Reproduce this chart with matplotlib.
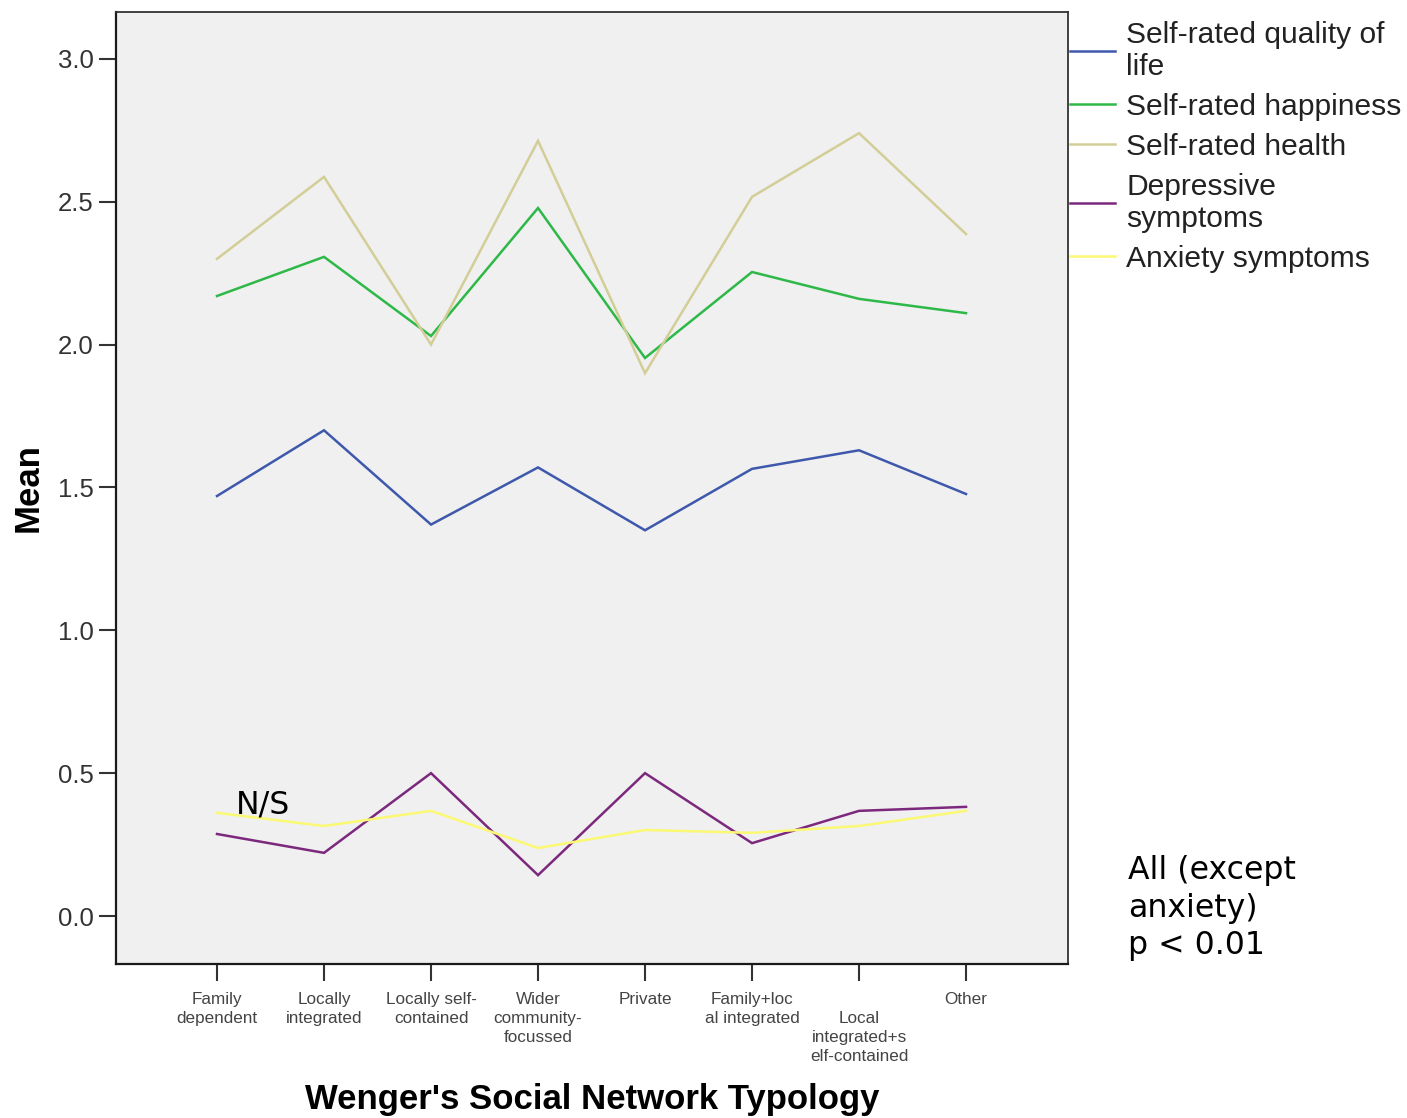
import matplotlib
matplotlib.use("Agg")
import matplotlib.pyplot as plt
import numpy as np

# Network types (x axis) and the mean of each outcome per type
categories = [
    "Family\ndependent",
    "Locally\nintegrated",
    "Locally self-\ncontained",
    "Wider\ncommunity-\nfocussed",
    "Private",
    "Family+loc\nal integrated",
    "\nLocal\nintegrated+s\nelf-contained",
    "Other",
]

quality_of_life = [1.47, 1.70, 1.37, 1.57, 1.35, 1.565, 1.63, 1.477]
happiness = [2.17, 2.307, 2.03, 2.478, 1.953, 2.254, 2.16, 2.11]
health = [2.30, 2.587, 2.00, 2.713, 1.90, 2.517, 2.74, 2.387]
depressive = [0.287, 0.221, 0.50, 0.143, 0.50, 0.255, 0.368, 0.382]
anxiety = [0.361, 0.315, 0.368, 0.238, 0.301, 0.291, 0.315, 0.368]

series_names = [
    "Self-rated quality of\nlife",
    "Self-rated happiness",
    "Self-rated health",
    "Depressive\nsymptoms",
    "Anxiety symptoms",
]
series_values = [quality_of_life, happiness, health, depressive, anxiety]
series_colors = ["#3E58AC", "#2EB848", "#D3CE97", "#7C287D", "#FBF873"]

y_ticks = [0.0, 0.5, 1.0, 1.5, 2.0, 2.5, 3.0]

W, H = 1407, 1118
fig = plt.figure(figsize=(W / 100, H / 100), dpi=100)
fig.patch.set_facecolor("white")

left, right, top, bottom = 116, 1068, 12, 964
ax = fig.add_axes([left / W, 1 - bottom / H, (right - left) / W, (bottom - top) / H])
ax.set_facecolor("#F0F0F0")

x = np.arange(len(categories))
for name, vals, col in zip(series_names, series_values, series_colors):
    ax.plot(x, vals, color=col, lw=1.8, label=name, solid_joinstyle="miter")

ax.set_xlim(-0.944, 7.953)
ax.set_ylim(-0.168, 3.164)

ax.set_yticks(y_ticks)
ax.set_yticklabels([f"{v:.1f}" for v in y_ticks],
                   fontfamily="Liberation Sans", fontsize=18.5, color="#333333")
ax.set_xticks(x)
ax.set_xticklabels(categories, fontfamily="Liberation Sans", fontsize=12.3,
                   color="#444444", linespacing=1.32, va="top")

ax.tick_params(axis="both", direction="out", length=12, width=1.5, color="#333333")
ax.tick_params(axis="y", pad=4)
ax.tick_params(axis="x", pad=8.5)

for side in ["left", "bottom"]:
    ax.spines[side].set_linewidth(1.6)
    ax.spines[side].set_color("#1a1a1a")
for side in ["top", "right"]:
    ax.spines[side].set_linewidth(1.3)
    ax.spines[side].set_color("#333333")

fig.text(28 / W, 1 - 488 / H, "Mean", rotation=90, ha="center", va="center",
         fontfamily="Liberation Sans", fontweight="bold", fontsize=25)
fig.text(592 / W, 1 - 1099 / H, "Wenger's Social Network Typology", ha="center",
         va="center", fontfamily="Liberation Sans", fontweight="bold", fontsize=25)

leg = ax.legend(loc="upper left", bbox_to_anchor=(1070 / W, 1 - 21 / H),
                bbox_transform=fig.transFigure, frameon=False, borderpad=0,
                borderaxespad=0, handlelength=1.5, handletextpad=0.37,
                labelspacing=0.40,
                prop={"family": "Liberation Sans", "size": 21.6})
for t in leg.get_texts():
    t.set_linespacing(1.18)
    t.set_color("#222222")

ax.text(0.18, 0.389, "N/S", ha="left", va="center", fontfamily="DejaVu Sans",
        fontsize=22.7, color="black")
fig.text(1128 / W, 1 - 908 / H, "All (except\nanxiety)\np < 0.01", ha="left",
         va="center", fontfamily="DejaVu Sans", fontsize=22.7, linespacing=1.27)

fig.savefig("out.png", dpi=100, facecolor="white")
